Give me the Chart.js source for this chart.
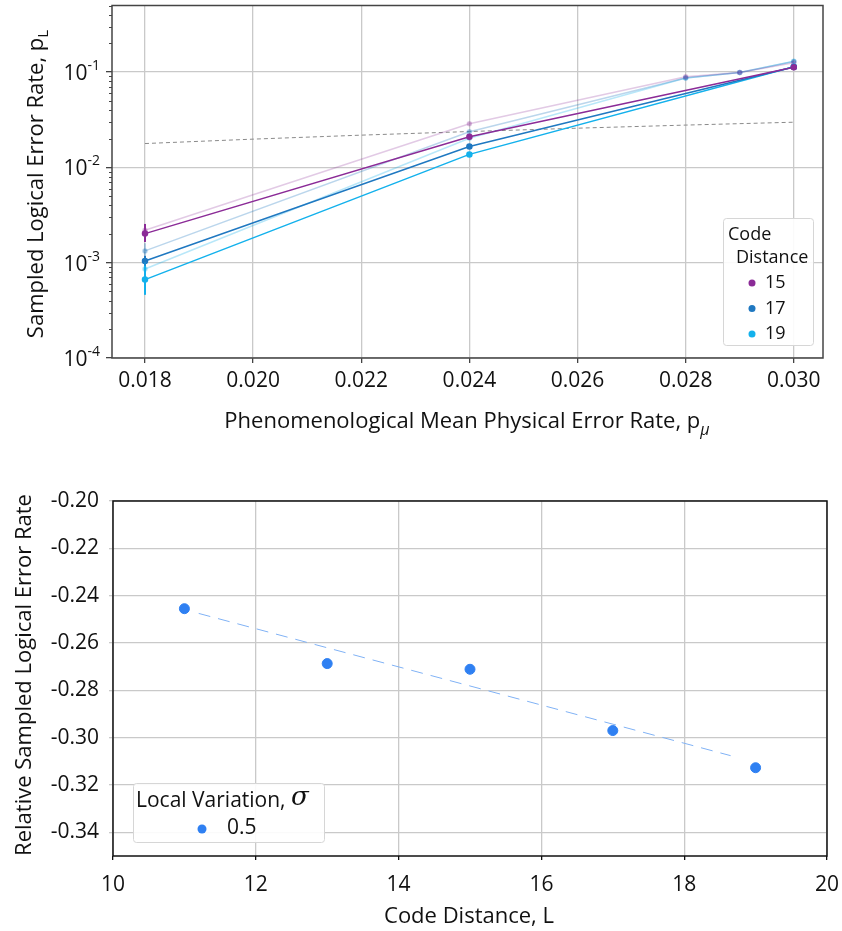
<!DOCTYPE html>
<html>
<head>
<meta charset="utf-8">
<script src="https://cdn.jsdelivr.net/npm/chart.js@4.4.1/dist/chart.umd.min.js"></script>
<style>
    body { margin: 0; background: #fff; }
    .panel { position: absolute; left: 0; }
</style>
</head>
<body>
<div class="panel" style="top:0"><canvas id="rateChart" width="842" height="445"></canvas></div>
<div class="panel" style="top:460px"><canvas id="relChart" width="842" height="471"></canvas></div>
<script>
// --- top panel: sampled logical error rate vs physical error rate
const pMain = [0.018, 0.024, 0.030];
const rate15 = [2.02e-3, 0.0210, 0.1127];
const rate17 = [1.04e-3, 0.0166, 0.1130];
const rate19 = [6.65e-4, 0.0137, 0.1140];
const low15 = [1.65e-3, null, null];
const high15 = [2.55e-3, null, null];
const low17 = [0.92e-3, null, null];
const high17 = [1.18e-3, null, null];
const low19 = [4.6e-4, null, null];
const high19 = [9.3e-4, null, null];

const pLight = [0.018, 0.024, 0.028, 0.029, 0.030];
const light15 = [2.19e-3, 0.0287, 0.0894, 0.0990, 0.125];
const light17 = [1.33e-3, 0.0237, 0.0866, 0.0990, 0.129];
const light19 = [8.6e-4, 0.0202, 0.0866, 0.0990, 0.130];
const lightLow15 = [1.95e-3, null, null, null, null];
const lightHigh15 = [2.5e-3, null, null, null, null];
const lightLow17 = [1.12e-3, null, null, null, null];
const lightHigh17 = [1.6e-3, null, null, null, null];
const lightLow19 = [7.2e-4, null, null, null, null];
const lightHigh19 = [1.02e-3, null, null, null, null];

const pDiag = [0.018, 0.020, 0.022, 0.024, 0.026, 0.028, 0.030];
const rateDiag = [0.0178, 0.0198, 0.0218, 0.0238, 0.0258, 0.0278, 0.0298];

const xTicksTop = [0.018, 0.020, 0.022, 0.024, 0.026, 0.028, 0.030];
const yDecades = [1e-4, 1e-3, 1e-2, 1e-1];
const distLabels = ['15', '17', '19'];

// --- bottom panel: relative error rate vs code distance
const codeDist = [11, 13, 15, 17, 19];
const relRate = [-0.2455, -0.2687, -0.2711, -0.2970, -0.3127];
const fitDist = [11.2, 18.65];
const fitRate = [-0.2475, -0.3076];
const xTicksBot = [10, 12, 14, 16, 18, 20];
const yTicksBot = [-0.20, -0.22, -0.24, -0.26, -0.28, -0.30, -0.32, -0.34];

const cores = {
    roxo: '#8b2b97',
    azul: '#1f78c1',
    ciano: '#13b1ec',
    roxoClaro: 'rgba(139, 43, 151, 0.25)',
    azulClaro: 'rgba(31, 120, 193, 0.3)',
    cianoClaro: 'rgba(19, 177, 236, 0.3)',
    ponto: '#2f80f2',
    ajuste: '#80b2f5',
    grade: '#c9c9c9',
    texto: '#111'
};

const FONT = '"Open Sans", sans-serif';
Chart.defaults.font.family = FONT;
Chart.defaults.color = cores.texto;

function pts(xs, ys, lo, hi) {
    return xs.map((x, i) => ({ x: x, y: ys[i], lo: lo ? lo[i] : null, hi: hi ? hi[i] : null }));
}

// tira o padding automatico das escalas
function noPad(s) {
    s.paddingLeft = 0; s.paddingRight = 0; s.paddingTop = 0; s.paddingBottom = 0;
}

function drawRich(ctx, parts, x, y, rot) {
    ctx.save();
    ctx.translate(x, y);
    if (rot) ctx.rotate(rot);
    let total = 0;
    parts.forEach(p => { ctx.font = p[1]; total += ctx.measureText(p[0]).width; });
    let cx = -total / 2;
    ctx.textAlign = 'left';
    ctx.textBaseline = 'middle';
    ctx.fillStyle = cores.texto;
    parts.forEach(p => {
        ctx.font = p[1];
        ctx.fillText(p[0], cx, p[2] || 0);
        cx += ctx.measureText(p[0]).width;
    });
    ctx.restore();
}

function legendBox(ctx, x, y, w, h) {
    ctx.save();
    ctx.fillStyle = 'rgba(255,255,255,0.9)';
    ctx.strokeStyle = '#d6d6d6';
    ctx.lineWidth = 1;
    ctx.beginPath();
    ctx.roundRect(x + 0.5, y + 0.5, w, h, 3);
    ctx.fill();
    ctx.stroke();
    ctx.restore();
}

// barras de erro
const errorBars = {
    id: 'errorBars',
    afterDatasetsDraw(chart) {
        const ctx = chart.ctx;
        const ys = chart.scales.y;
        chart.data.datasets.forEach((ds, di) => {
            const meta = chart.getDatasetMeta(di);
            ds.data.forEach((d, i) => {
                if (d.lo == null) return;
                const px = meta.data[i].x;
                ctx.save();
                ctx.strokeStyle = ds.borderColor;
                ctx.lineWidth = 2;
                ctx.beginPath();
                ctx.moveTo(px, ys.getPixelForValue(d.lo));
                ctx.lineTo(px, ys.getPixelForValue(d.hi));
                ctx.stroke();
                ctx.restore();
            });
        });
    }
};

const topDecor = {
    id: 'topDecor',
    afterDraw(chart) {
        const ctx = chart.ctx;
        const a = chart.chartArea;
        const ys = chart.scales.y;
        ctx.save();
        ctx.strokeStyle = '#444';
        ctx.lineWidth = 1.5;
        ctx.strokeRect(a.left, a.top, a.right - a.left, a.bottom - a.top);
        // minor ticks
        ctx.lineWidth = 1;
        ys.ticks.forEach(t => {
            if (t.major) return;
            const py = Math.round(ys.getPixelForValue(t.value)) + 0.5;
            ctx.beginPath();
            ctx.moveTo(a.left - 3, py);
            ctx.lineTo(a.left, py);
            ctx.stroke();
        });
        ctx.restore();
        // 10^n labels
        yDecades.forEach(v => {
            const py = ys.getPixelForValue(v);
            const exp = String(Math.round(Math.log10(v)));
            ctx.save();
            ctx.fillStyle = cores.texto;
            ctx.textBaseline = 'alphabetic';
            ctx.textAlign = 'left';
            ctx.font = '14px ' + FONT;
            const ew = ctx.measureText(exp).width;
            ctx.font = '21px ' + FONT;
            const bw = ctx.measureText('10').width;
            const right = 100;
            ctx.fillText('10', right - ew - bw, py + 8);
            ctx.font = '14px ' + FONT;
            ctx.fillText(exp, right - ew, py - 2);
            ctx.restore();
        });
        // axis titles
        drawRich(ctx, [['Phenomenological Mean Physical Error Rate, p', '22px ' + FONT],
            ['\u03bc', 'italic 16px ' + FONT, 8]], 467, 422);
        drawRich(ctx, [['Sampled Logical Error Rate, p', '22px ' + FONT],
            ['L', '15px ' + FONT, 7]], 37, 184, -Math.PI / 2);
        // legend
        legendBox(ctx, 723, 218, 90, 127);
        ctx.save();
        ctx.fillStyle = cores.texto;
        ctx.textAlign = 'left';
        ctx.textBaseline = 'middle';
        ctx.font = '18px ' + FONT;
        ctx.fillText('Code', 728, 235);
        ctx.fillText('Distance', 736, 258);
        const dotCores = [cores.roxo, cores.azul, cores.ciano];
        distLabels.forEach((lab, i) => {
            const py = 283 + i * 25.5;
            ctx.fillStyle = dotCores[i];
            ctx.beginPath();
            ctx.arc(752, py, 3.5, 0, Math.PI * 2);
            ctx.fill();
            ctx.fillStyle = cores.texto;
            ctx.fillText(lab, 765, py);
        });
        ctx.restore();
    }
};

const botDecor = {
    id: 'botDecor',
    afterDraw(chart) {
        const ctx = chart.ctx;
        const a = chart.chartArea;
        ctx.save();
        ctx.strokeStyle = '#111';
        ctx.lineWidth = 1.5;
        ctx.strokeRect(a.left, a.top, a.right - a.left, a.bottom - a.top);
        ctx.restore();
        drawRich(ctx, [['Code Distance, L', '22px ' + FONT]], 469, 457);
        drawRich(ctx, [['Relative Sampled Logical Error Rate', '22px ' + FONT]], 25, 215, -Math.PI / 2);
        legendBox(ctx, 133, 323, 191, 59);
        ctx.save();
        ctx.fillStyle = cores.texto;
        ctx.textAlign = 'left';
        ctx.textBaseline = 'middle';
        ctx.font = '21px ' + FONT;
        const t = 'Local Variation, ';
        ctx.fillText(t, 136, 341);
        const tw = ctx.measureText(t).width;
        ctx.font = 'italic 26px "DejaVu Serif", serif';
        ctx.fillText('\u03c3', 136 + tw, 338);
        ctx.font = '21px ' + FONT;
        ctx.fillText('0.5', 227, 368);
        ctx.fillStyle = cores.ponto;
        ctx.beginPath();
        ctx.arc(202, 369, 4.5, 0, Math.PI * 2);
        ctx.fill();
        ctx.restore();
    }
};

// grafico de cima
new Chart(document.getElementById('rateChart'), {
    type: 'line',
    data: {
        datasets: [
            { label: distLabels[0], data: pts(pMain, rate15, low15, high15), borderColor: cores.roxo, backgroundColor: cores.roxo, borderWidth: 1.5, pointRadius: 2.5 },
            { label: distLabels[1], data: pts(pMain, rate17, low17, high17), borderColor: cores.azul, backgroundColor: cores.azul, borderWidth: 1.5, pointRadius: 2.5 },
            { label: distLabels[2], data: pts(pMain, rate19, low19, high19), borderColor: cores.ciano, backgroundColor: cores.ciano, borderWidth: 1.5, pointRadius: 2.5 },
            { label: '', data: pts(pLight, light15, lightLow15, lightHigh15), borderColor: cores.roxoClaro, backgroundColor: cores.roxoClaro, borderWidth: 1.5, pointRadius: 2 },
            { label: '', data: pts(pLight, light17, lightLow17, lightHigh17), borderColor: cores.azulClaro, backgroundColor: cores.azulClaro, borderWidth: 1.5, pointRadius: 2 },
            { label: '', data: pts(pLight, light19, lightLow19, lightHigh19), borderColor: cores.cianoClaro, backgroundColor: cores.cianoClaro, borderWidth: 1.5, pointRadius: 2 },
            { label: '', data: pts(pDiag, rateDiag), borderColor: '#8a8a8a', borderWidth: 1, borderDash: [4, 3], pointRadius: 0 }
        ]
    },
    options: {
        responsive: false,
        devicePixelRatio: 1,
        animation: false,
        layout: { padding: { top: 3, right: 19, left: 0, bottom: 0 } },
        plugins: { legend: { display: false }, tooltip: { enabled: false } },
        scales: {
            x: {
                type: 'linear',
                min: 0.01739,
                max: 0.03054,
                afterBuildTicks: s => { s.ticks = xTicksTop.map(v => ({ value: v })); },
                afterFit: s => { s.height = 87; noPad(s); },
                ticks: { callback: v => v.toFixed(3), font: { size: 21 }, padding: 5, maxRotation: 0, autoSkip: false },
                grid: { color: cores.grade, lineWidth: 1.3, tickLength: 5, tickColor: '#444' },
                border: { display: false }
            },
            y: {
                type: 'logarithmic',
                min: 1e-4,
                max: 0.5,
                afterBuildTicks: s => {
                    const t = [];
                    yDecades.forEach(d => {
                        for (let m = 1; m <= 9; m++) {
                            if (d * m <= 0.5) t.push({ value: d * m, major: m === 1 });
                        }
                    });
                    s.ticks = t;
                },
                afterFit: s => { s.width = 112; noPad(s); },
                ticks: { callback: () => '', autoSkip: false },
                grid: {
                    color: c => (c.tick && c.tick.major) ? cores.grade : 'transparent',
                    lineWidth: 1.3,
                    tickLength: 6,
                    tickColor: c => (c.tick && c.tick.major) ? '#444' : 'transparent'
                },
                border: { display: false }
            }
        }
    },
    plugins: [errorBars, topDecor]
});

// grafico de baixo
new Chart(document.getElementById('relChart'), {
    type: 'scatter',
    data: {
        datasets: [
            { label: '0.5', data: pts(codeDist, relRate), backgroundColor: cores.ponto, borderColor: cores.ponto, pointRadius: 5, showLine: false },
            { label: '', data: pts(fitDist, fitRate), borderColor: cores.ajuste, borderWidth: 1, borderDash: [12, 8], pointRadius: 0, showLine: true }
        ]
    },
    options: {
        responsive: false,
        devicePixelRatio: 1,
        animation: false,
        layout: { padding: { top: 41, right: 15, left: 0, bottom: 0 } },
        plugins: { legend: { display: false }, tooltip: { enabled: false } },
        scales: {
            x: {
                type: 'linear',
                min: 10,
                max: 20,
                afterBuildTicks: s => { s.ticks = xTicksBot.map(v => ({ value: v })); },
                afterFit: s => { s.height = 75; noPad(s); },
                ticks: { font: { size: 21 }, padding: 12, maxRotation: 0, autoSkip: false },
                grid: { color: cores.grade, lineWidth: 1.3, tickLength: 4, tickColor: '#111' },
                border: { display: false }
            },
            y: {
                min: -0.35,
                max: -0.20,
                afterBuildTicks: s => { s.ticks = yTicksBot.map(v => ({ value: v })); },
                afterFit: s => { s.width = 113; noPad(s); },
                ticks: { callback: v => v.toFixed(2), font: { size: 21 }, padding: 10, autoSkip: false },
                grid: { color: cores.grade, lineWidth: 1.3, tickLength: 4, tickColor: cores.grade },
                border: { display: false }
            }
        }
    },
    plugins: [botDecor]
});
</script>
</body>
</html>
